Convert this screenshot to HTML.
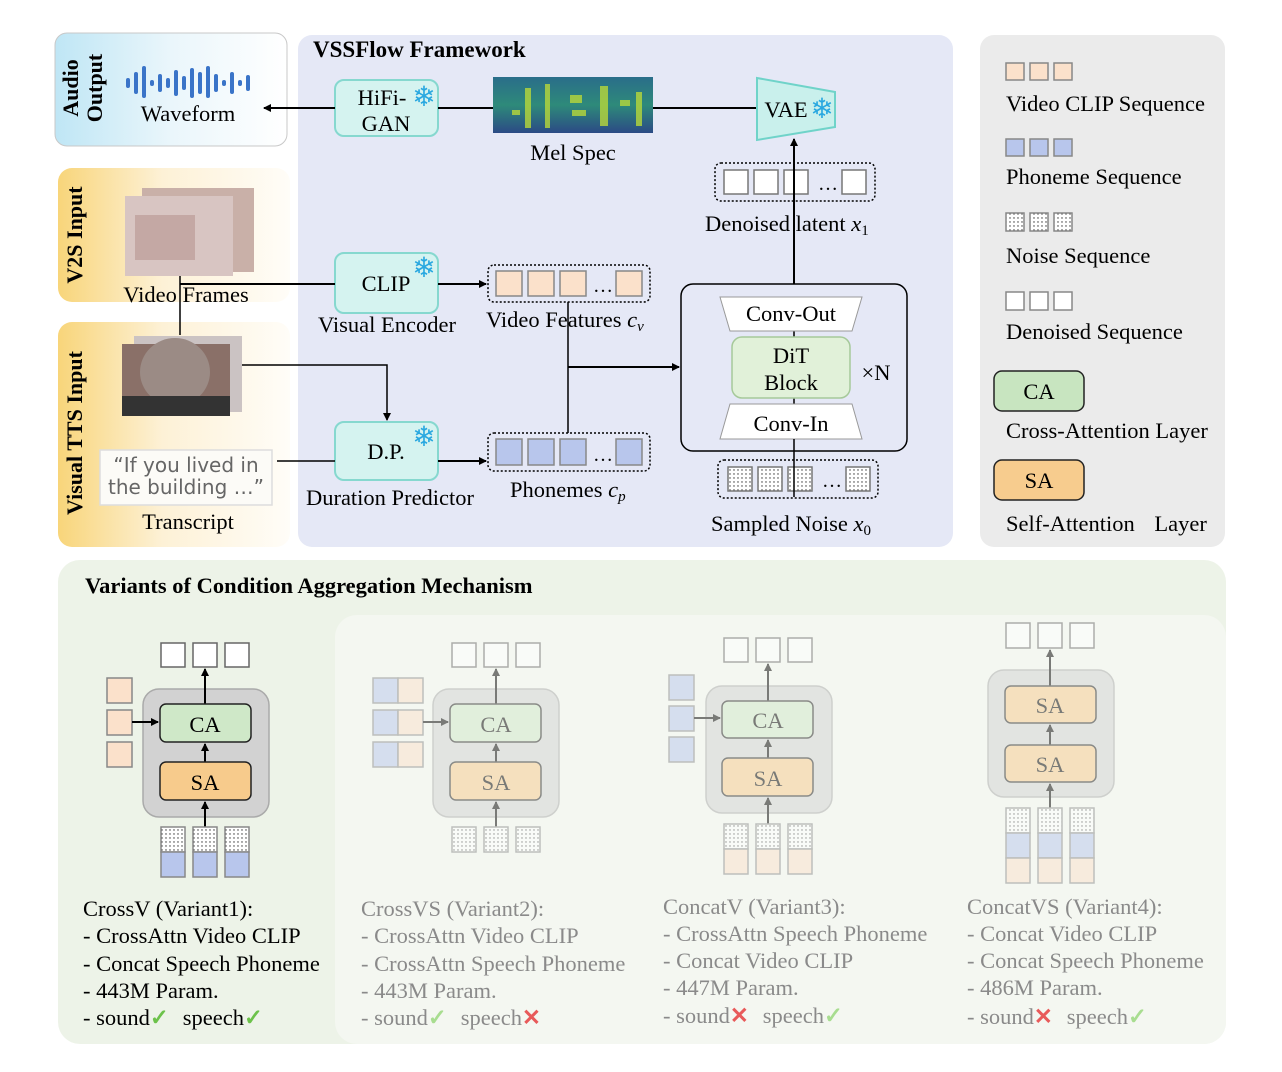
<!DOCTYPE html>
<html><head><meta charset="utf-8"><style>
html,body{margin:0;padding:0;background:#fff;}
svg{display:block;font-family:"Liberation Serif",serif;}
</style></head><body>
<svg width="1282" height="1072" viewBox="0 0 1282 1072" xmlns="http://www.w3.org/2000/svg">
<defs>
<linearGradient id="gBlue" x1="0" y1="0" x2="1" y2="0"><stop offset="0" stop-color="#bfe6f5"/><stop offset="0.5" stop-color="#eaf6fb"/><stop offset="1" stop-color="#ffffff"/></linearGradient>
<linearGradient id="gOr" x1="0" y1="0" x2="1" y2="0"><stop offset="0" stop-color="#f8d57a"/><stop offset="0.45" stop-color="#fdf1d6"/><stop offset="1" stop-color="#fffdf8"/></linearGradient>
<linearGradient id="gMel" x1="0" y1="0" x2="0" y2="1"><stop offset="0" stop-color="#2a6d8a"/><stop offset="0.5" stop-color="#2e8a7a"/><stop offset="1" stop-color="#2b4a85"/></linearGradient>
<pattern id="dots" width="4" height="4" patternUnits="userSpaceOnUse"><rect width="4" height="4" fill="#fff"/><circle cx="2" cy="2" r="0.7" fill="#333"/></pattern>
<marker id="ar" markerWidth="8" markerHeight="8" refX="7" refY="4" orient="auto" markerUnits="userSpaceOnUse"><path d="M0,0 L8,4 L0,8 z" fill="#000"/></marker>
</defs>

<!-- Audio output -->
<rect x="55" y="33" width="232" height="113" rx="12" fill="url(#gBlue)" stroke="#c8c8c8"/>
<text transform="translate(78,88) rotate(-90)" font-size="22" font-weight="bold" text-anchor="middle">Audio</text>
<text transform="translate(102,88) rotate(-90)" font-size="22" font-weight="bold" text-anchor="middle">Output</text>
<g fill="#3a74c8">
<rect x="126" y="78" width="4" height="10" rx="2"/><rect x="134" y="72" width="4" height="22" rx="2"/><rect x="142" y="66" width="4" height="32" rx="2"/><rect x="150" y="80" width="4" height="6" rx="2"/><rect x="158" y="74" width="4" height="18" rx="2"/><rect x="166" y="78" width="4" height="10" rx="2"/><rect x="174" y="70" width="4" height="26" rx="2"/><rect x="182" y="76" width="4" height="14" rx="2"/><rect x="190" y="68" width="4" height="30" rx="2"/><rect x="198" y="72" width="4" height="22" rx="2"/><rect x="206" y="66" width="4" height="32" rx="2"/><rect x="214" y="74" width="4" height="18" rx="2"/><rect x="222" y="80" width="4" height="6" rx="2"/><rect x="230" y="72" width="4" height="22" rx="2"/><rect x="238" y="80" width="4" height="6" rx="2"/><rect x="246" y="75" width="4" height="16" rx="2"/>
</g>
<text x="188" y="121" font-size="22.5" text-anchor="middle">Waveform</text>

<!-- V2S -->
<rect x="58" y="168" width="232" height="134" rx="14" fill="url(#gOr)"/>
<text transform="translate(82,235) rotate(-90)" font-size="22" font-weight="bold" text-anchor="middle">V2S  Input</text>
<rect x="142" y="188" width="112" height="84" fill="#c9b0a8"/>
<rect x="125" y="196" width="108" height="80" fill="#d8c5c2"/>
<rect x="135" y="215" width="60" height="45" fill="#b79490" opacity="0.6"/>
<text x="186" y="302" font-size="22.5" text-anchor="middle">Video Frames</text>

<!-- Visual TTS -->
<rect x="58" y="322" width="232" height="225" rx="14" fill="url(#gOr)"/>
<text transform="translate(82,433) rotate(-90)" font-size="22" font-weight="bold" text-anchor="middle">Visual TTS  Input</text>
<rect x="134" y="336" width="108" height="76" fill="#cbc3c3"/>
<rect x="122" y="344" width="108" height="72" fill="#8a7068"/>
<ellipse cx="175" cy="372" rx="35" ry="34" fill="#9b8b85"/>
<rect x="122" y="396" width="108" height="20" fill="#333"/>
<rect x="328" y="348" width="48" height="46" fill="#c9b0a8"/>
<rect x="328" y="342" width="44" height="46" fill="#a88870"/>
<text x="349" y="412" font-size="22.5" text-anchor="middle">Lip</text>
<rect x="100" y="450" width="172" height="55" fill="#fcfbf7" stroke="#ddd" stroke-width="1.5"/>
<text x="186" y="472" font-size="20" fill="#666" text-anchor="middle" font-family="DejaVu Sans, sans-serif">“If you lived in</text>
<text x="186" y="494" font-size="20" fill="#666" text-anchor="middle" font-family="DejaVu Sans, sans-serif">the building …”</text>
<text x="188" y="529" font-size="22.5" text-anchor="middle">Transcript</text>

<!-- VSSFlow panel -->
<rect x="298" y="35" width="655" height="512" rx="14" fill="#e5e8f6"/>
<text x="313" y="57" font-size="23" font-weight="bold">VSSFlow Framework</text>

<!-- HiFi-GAN -->
<rect x="335" y="80" width="103" height="56" rx="9" fill="#d5f3f0" stroke="#86d8cf" stroke-width="2"/>
<text x="382" y="105" font-size="22.5" text-anchor="middle">HiFi-</text>
<text x="386" y="131" font-size="22.5" text-anchor="middle">GAN</text>
<text x="424" y="106" font-size="28" fill="#2aa8e0" text-anchor="middle">❄</text>
<line x1="335" y1="108" x2="264" y2="108" stroke="#000" stroke-width="2" marker-end="url(#ar)"/>
<line x1="438" y1="108" x2="493" y2="108" stroke="#000" stroke-width="2"/>
<rect x="493" y="77" width="160" height="56" fill="url(#gMel)"/>
<g fill="#b8d83a" opacity="0.8">
<rect x="525" y="88" width="6" height="40"/><rect x="545" y="84" width="5" height="44"/><rect x="570" y="95" width="12" height="8"/><rect x="572" y="110" width="14" height="6"/><rect x="600" y="86" width="8" height="40"/><rect x="620" y="100" width="10" height="6"/><rect x="636" y="92" width="6" height="34"/><rect x="512" y="110" width="8" height="5"/>
</g>
<text x="573" y="160" font-size="22.5" text-anchor="middle">Mel Spec</text>
<line x1="653" y1="108" x2="757" y2="108" stroke="#000" stroke-width="2"/>
<polygon points="757,78 835,92 835,127 757,140" fill="#c9f0ec" stroke="#6fd3c9" stroke-width="2"/>
<text x="786" y="117" font-size="22.5" text-anchor="middle">VAE</text>
<text x="822" y="118" font-size="28" fill="#2aa8e0" text-anchor="middle">❄</text>

<!-- Denoised latent -->
<rect x="715" y="163" width="160" height="38" rx="6" fill="none" stroke="#000" stroke-width="1.5" stroke-dasharray="2,2"/>
<g fill="#fff" stroke="#777" stroke-width="1.5"><rect x="724" y="170" width="24" height="24"/><rect x="754" y="170" width="24" height="24"/><rect x="784" y="170" width="24" height="24"/><rect x="842" y="170" width="24" height="24"/></g>
<text x="828" y="190" font-size="20" text-anchor="middle">…</text>
<line x1="794" y1="297" x2="794" y2="139" stroke="#000" stroke-width="2" marker-end="url(#ar)"/>
<text x="705" y="231" font-size="22.5">Denoised latent <tspan font-style="italic">x</tspan><tspan font-size="15" dy="4">1</tspan></text>

<!-- DiT -->
<rect x="681" y="284" width="226" height="167" rx="12" fill="#e5e8f6" stroke="#000" stroke-width="1.5"/>
<line x1="794" y1="331" x2="794" y2="404" stroke="#000" stroke-width="1.5"/>
<polygon points="720,297 862,297 852,331 730,331" fill="#fff" stroke="#999"/>
<text x="791" y="321" font-size="22.5" text-anchor="middle">Conv-Out</text>
<rect x="732" y="337" width="118" height="61" rx="10" fill="#e1f1d9" stroke="#a6c99a" stroke-width="1.5"/>
<text x="791" y="363" font-size="22.5" text-anchor="middle">DiT</text>
<text x="791" y="390" font-size="22.5" text-anchor="middle">Block</text>
<text x="876" y="380" font-size="22.5" text-anchor="middle">×N</text>
<polygon points="730,404 852,404 862,439 720,439" fill="#fff" stroke="#999"/>
<text x="791" y="431" font-size="22.5" text-anchor="middle">Conv-In</text>

<!-- Noise -->
<rect x="718" y="460" width="160" height="38" rx="6" fill="none" stroke="#000" stroke-width="1.5" stroke-dasharray="2,2"/>
<g fill="url(#dots)" stroke="#777" stroke-width="1.5"><rect x="728" y="467" width="24" height="24"/><rect x="758" y="467" width="24" height="24"/><rect x="788" y="467" width="24" height="24"/><rect x="846" y="467" width="24" height="24"/></g>
<text x="832" y="487" font-size="20" text-anchor="middle">…</text>
<line x1="794" y1="497" x2="794" y2="439" stroke="#000" stroke-width="1.5"/>
<text x="711" y="531" font-size="22.5">Sampled Noise <tspan font-style="italic">x</tspan><tspan font-size="15" dy="4">0</tspan></text>

<!-- CLIP -->
<rect x="335" y="253" width="103" height="60" rx="9" fill="#d5f3f0" stroke="#86d8cf" stroke-width="2"/>
<text x="386" y="291" font-size="22.5" text-anchor="middle">CLIP</text>
<text x="424" y="277" font-size="28" fill="#2aa8e0" text-anchor="middle">❄</text>
<text x="387" y="332" font-size="22.5" text-anchor="middle">Visual Encoder</text>
<polyline points="180,276 180,335" fill="none" stroke="#000" stroke-width="1.5"/>
<line x1="180" y1="284" x2="335" y2="284" stroke="#000" stroke-width="2"/>
<line x1="438" y1="284" x2="486" y2="284" stroke="#000" stroke-width="2" marker-end="url(#ar)"/>
<rect x="488" y="265" width="162" height="37" rx="6" fill="none" stroke="#000" stroke-width="1.5" stroke-dasharray="2,2"/>
<g fill="#fbe1cb" stroke="#888" stroke-width="1.5"><rect x="496" y="271" width="26" height="25"/><rect x="528" y="271" width="26" height="25"/><rect x="560" y="271" width="26" height="25"/><rect x="616" y="271" width="26" height="25"/></g>
<text x="603" y="292" font-size="20" text-anchor="middle">…</text>
<text x="486" y="327" font-size="22.5">Video Features <tspan font-style="italic">c</tspan><tspan font-size="15" dy="4" font-style="italic">v</tspan></text>

<!-- DP -->
<polyline points="242,365 387,365 387,420" fill="none" stroke="#000" stroke-width="1.5" marker-end="url(#ar)"/>
<rect x="335" y="422" width="103" height="58" rx="9" fill="#d5f3f0" stroke="#86d8cf" stroke-width="2"/>
<text x="386" y="459" font-size="22.5" text-anchor="middle">D.P.</text>
<text x="424" y="446" font-size="28" fill="#2aa8e0" text-anchor="middle">❄</text>
<text x="390" y="505" font-size="22.5" text-anchor="middle">Duration Predictor</text>
<line x1="277" y1="461" x2="335" y2="461" stroke="#000" stroke-width="1.5"/>
<line x1="438" y1="461" x2="486" y2="461" stroke="#000" stroke-width="2" marker-end="url(#ar)"/>
<rect x="488" y="433" width="162" height="38" rx="6" fill="none" stroke="#000" stroke-width="1.5" stroke-dasharray="2,2"/>
<g fill="#b8c6ec" stroke="#888" stroke-width="1.5"><rect x="496" y="439" width="26" height="26"/><rect x="528" y="439" width="26" height="26"/><rect x="560" y="439" width="26" height="26"/><rect x="616" y="439" width="26" height="26"/></g>
<text x="603" y="461" font-size="20" text-anchor="middle">…</text>
<text x="510" y="497" font-size="22.5">Phonemes <tspan font-style="italic">c</tspan><tspan font-size="15" dy="4" font-style="italic">p</tspan></text>
<line x1="568" y1="302" x2="568" y2="433" stroke="#000" stroke-width="1.5"/>
<line x1="568" y1="367" x2="679" y2="367" stroke="#000" stroke-width="2" marker-end="url(#ar)"/>

<!-- Legend -->
<rect x="980" y="35" width="245" height="512" rx="14" fill="#ebebeb"/>
<g stroke="#888" stroke-width="1.5">
<g fill="#fbe1cb"><rect x="1006" y="63" width="18" height="17"/><rect x="1030" y="63" width="18" height="17"/><rect x="1054" y="63" width="18" height="17"/></g>
<g fill="#b8c6ec"><rect x="1006" y="139" width="18" height="17"/><rect x="1030" y="139" width="18" height="17"/><rect x="1054" y="139" width="18" height="17"/></g>
<g fill="url(#dots)"><rect x="1006" y="213" width="18" height="18"/><rect x="1030" y="213" width="18" height="18"/><rect x="1054" y="213" width="18" height="18"/></g>
<g fill="#fff"><rect x="1006" y="292" width="18" height="18"/><rect x="1030" y="292" width="18" height="18"/><rect x="1054" y="292" width="18" height="18"/></g>
</g>
<text x="1006" y="111" font-size="22.5">Video CLIP Sequence</text>
<text x="1006" y="184" font-size="22.5">Phoneme Sequence</text>
<text x="1006" y="263" font-size="22.5">Noise Sequence</text>
<text x="1006" y="339" font-size="22.5">Denoised Sequence</text>
<rect x="994" y="371" width="90" height="40" rx="8" fill="#c8e5c0" stroke="#222" stroke-width="1.5"/>
<text x="1039" y="399" font-size="22.5" text-anchor="middle">CA</text>
<text x="1006" y="438" font-size="22.5">Cross-Attention Layer</text>
<rect x="994" y="460" width="90" height="40" rx="8" fill="#f7cc8e" stroke="#222" stroke-width="1.5"/>
<text x="1039" y="488" font-size="22.5" text-anchor="middle">SA</text>
<text x="1006" y="531" font-size="22.5">Self-Attention <tspan dx="14">Layer</tspan></text>

<!-- Bottom panel -->
<rect x="58" y="560" width="1168" height="484" rx="22" fill="#edf3e8"/>
<rect x="335" y="615" width="891" height="429" rx="22" fill="#f4f7f1"/>
<text x="85" y="593" font-size="22.5" font-weight="bold">Variants of Condition Aggregation Mechanism</text>

<!-- Variant1 -->
<g>
<g fill="#fff" stroke="#666" stroke-width="1.5"><rect x="161" y="643" width="24" height="24"/><rect x="193" y="643" width="24" height="24"/><rect x="225" y="643" width="24" height="24"/></g>
<rect x="143" y="689" width="126" height="128" rx="16" fill="#d2d2d2" stroke="#aaa" stroke-width="1.5"/>
<line x1="205" y1="704" x2="205" y2="669" stroke="#000" stroke-width="2" marker-end="url(#ar)"/>
<rect x="160" y="704" width="91" height="38" rx="6" fill="#cfe8c8" stroke="#222" stroke-width="1.5"/>
<text x="205" y="732" font-size="22.5" text-anchor="middle">CA</text>
<line x1="205" y1="762" x2="205" y2="744" stroke="#000" stroke-width="2" marker-end="url(#ar)"/>
<rect x="160" y="762" width="91" height="38" rx="6" fill="#f7cb8c" stroke="#222" stroke-width="1.5"/>
<text x="205" y="790" font-size="22.5" text-anchor="middle">SA</text>
<line x1="205" y1="827" x2="205" y2="802" stroke="#000" stroke-width="2" marker-end="url(#ar)"/>
<g fill="#fbe1cb" stroke="#888" stroke-width="1.5"><rect x="107" y="678" width="25" height="25"/><rect x="107" y="710" width="25" height="25"/><rect x="107" y="742" width="25" height="25"/></g>
<line x1="132" y1="722" x2="158" y2="722" stroke="#000" stroke-width="2" marker-end="url(#ar)"/>
<g stroke="#888" stroke-width="1.5"><rect x="161" y="827" width="24" height="25" fill="url(#dots)"/><rect x="193" y="827" width="24" height="25" fill="url(#dots)"/><rect x="225" y="827" width="24" height="25" fill="url(#dots)"/>
<rect x="161" y="852" width="24" height="25" fill="#b8c6ec"/><rect x="193" y="852" width="24" height="25" fill="#b8c6ec"/><rect x="225" y="852" width="24" height="25" fill="#b8c6ec"/></g>
</g>
<g font-size="22.5">
<text x="83" y="916">CrossV (Variant1):</text>
<text x="83" y="943">- CrossAttn Video CLIP</text>
<text x="83" y="971">- Concat Speech Phoneme</text>
<text x="83" y="998">- 443M Param.</text>
<text x="83" y="1025">- sound<tspan fill="#6cc24a" font-weight="bold">✓</tspan><tspan dx="14">speech</tspan><tspan fill="#6cc24a" font-weight="bold">✓</tspan></text>
</g>

<!-- Variant2 -->
<g opacity="0.5">
<g fill="#fff" stroke="#666" stroke-width="1.5"><rect x="452" y="643" width="24" height="24"/><rect x="484" y="643" width="24" height="24"/><rect x="516" y="643" width="24" height="24"/></g>
<rect x="433" y="689" width="126" height="128" rx="16" fill="#d2d2d2" stroke="#aaa" stroke-width="1.5"/>
<line x1="496" y1="704" x2="496" y2="669" stroke="#000" stroke-width="2" marker-end="url(#ar)"/>
<rect x="450" y="704" width="91" height="38" rx="6" fill="#cfe8c8" stroke="#222" stroke-width="1.5"/>
<text x="496" y="732" font-size="22.5" text-anchor="middle">CA</text>
<line x1="496" y1="762" x2="496" y2="744" stroke="#000" stroke-width="2" marker-end="url(#ar)"/>
<rect x="450" y="762" width="91" height="38" rx="6" fill="#f7cb8c" stroke="#222" stroke-width="1.5"/>
<text x="496" y="790" font-size="22.5" text-anchor="middle">SA</text>
<line x1="496" y1="827" x2="496" y2="802" stroke="#000" stroke-width="2" marker-end="url(#ar)"/>
<g stroke="#888" stroke-width="1.5"><rect x="373" y="678" width="25" height="25" fill="#b8c6ec"/><rect x="398" y="678" width="25" height="25" fill="#fbe1cb"/><rect x="373" y="710" width="25" height="25" fill="#b8c6ec"/><rect x="398" y="710" width="25" height="25" fill="#fbe1cb"/><rect x="373" y="742" width="25" height="25" fill="#b8c6ec"/><rect x="398" y="742" width="25" height="25" fill="#fbe1cb"/></g>
<line x1="423" y1="722" x2="448" y2="722" stroke="#000" stroke-width="2" marker-end="url(#ar)"/>
<g stroke="#888" stroke-width="1.5" fill="url(#dots)"><rect x="452" y="827" width="24" height="25"/><rect x="484" y="827" width="24" height="25"/><rect x="516" y="827" width="24" height="25"/></g>
</g>
<g font-size="22.5" fill="#8a8a8a">
<text x="361" y="916">CrossVS (Variant2):</text>
<text x="361" y="943">- CrossAttn Video CLIP</text>
<text x="361" y="971">- CrossAttn Speech Phoneme</text>
<text x="361" y="998">- 443M Param.</text>
<text x="361" y="1025">- sound<tspan fill="#a8dd90" font-weight="bold">✓</tspan><tspan dx="14">speech</tspan><tspan fill="#e85a5a" font-weight="bold">✕</tspan></text>
</g>

<!-- Variant3 -->
<g opacity="0.5">
<g fill="#fff" stroke="#666" stroke-width="1.5"><rect x="724" y="638" width="24" height="24"/><rect x="756" y="638" width="24" height="24"/><rect x="788" y="638" width="24" height="24"/></g>
<rect x="706" y="686" width="126" height="127" rx="16" fill="#d2d2d2" stroke="#aaa" stroke-width="1.5"/>
<line x1="768" y1="701" x2="768" y2="664" stroke="#000" stroke-width="2" marker-end="url(#ar)"/>
<rect x="722" y="701" width="91" height="37" rx="6" fill="#cfe8c8" stroke="#222" stroke-width="1.5"/>
<text x="768" y="728" font-size="22.5" text-anchor="middle">CA</text>
<line x1="768" y1="758" x2="768" y2="740" stroke="#000" stroke-width="2" marker-end="url(#ar)"/>
<rect x="722" y="758" width="91" height="38" rx="6" fill="#f7cb8c" stroke="#222" stroke-width="1.5"/>
<text x="768" y="786" font-size="22.5" text-anchor="middle">SA</text>
<line x1="768" y1="824" x2="768" y2="798" stroke="#000" stroke-width="2" marker-end="url(#ar)"/>
<g fill="#b8c6ec" stroke="#888" stroke-width="1.5"><rect x="669" y="675" width="25" height="25"/><rect x="669" y="706" width="25" height="25"/><rect x="669" y="737" width="25" height="25"/></g>
<line x1="694" y1="718" x2="720" y2="718" stroke="#000" stroke-width="2" marker-end="url(#ar)"/>
<g stroke="#888" stroke-width="1.5"><rect x="724" y="824" width="24" height="25" fill="url(#dots)"/><rect x="756" y="824" width="24" height="25" fill="url(#dots)"/><rect x="788" y="824" width="24" height="25" fill="url(#dots)"/>
<rect x="724" y="849" width="24" height="25" fill="#fbe1cb"/><rect x="756" y="849" width="24" height="25" fill="#fbe1cb"/><rect x="788" y="849" width="24" height="25" fill="#fbe1cb"/></g>
</g>
<g font-size="22.5" fill="#8a8a8a">
<text x="663" y="914">ConcatV (Variant3):</text>
<text x="663" y="941">- CrossAttn Speech Phoneme</text>
<text x="663" y="968">- Concat Video CLIP</text>
<text x="663" y="995">- 447M Param.</text>
<text x="663" y="1023">- sound<tspan fill="#e85a5a" font-weight="bold">✕</tspan><tspan dx="14">speech</tspan><tspan fill="#a8dd90" font-weight="bold">✓</tspan></text>
</g>

<!-- Variant4 -->
<g opacity="0.5">
<g fill="#fff" stroke="#666" stroke-width="1.5"><rect x="1006" y="623" width="24" height="25"/><rect x="1038" y="623" width="24" height="25"/><rect x="1070" y="623" width="24" height="25"/></g>
<rect x="988" y="670" width="126" height="127" rx="16" fill="#d2d2d2" stroke="#aaa" stroke-width="1.5"/>
<line x1="1050" y1="686" x2="1050" y2="650" stroke="#000" stroke-width="2" marker-end="url(#ar)"/>
<rect x="1005" y="686" width="91" height="37" rx="6" fill="#f7cb8c" stroke="#222" stroke-width="1.5"/>
<text x="1050" y="713" font-size="22.5" text-anchor="middle">SA</text>
<line x1="1050" y1="745" x2="1050" y2="725" stroke="#000" stroke-width="2" marker-end="url(#ar)"/>
<rect x="1005" y="745" width="91" height="37" rx="6" fill="#f7cb8c" stroke="#222" stroke-width="1.5"/>
<text x="1050" y="772" font-size="22.5" text-anchor="middle">SA</text>
<line x1="1050" y1="808" x2="1050" y2="784" stroke="#000" stroke-width="2" marker-end="url(#ar)"/>
<g stroke="#888" stroke-width="1.5"><rect x="1006" y="808" width="24" height="25" fill="url(#dots)"/><rect x="1038" y="808" width="24" height="25" fill="url(#dots)"/><rect x="1070" y="808" width="24" height="25" fill="url(#dots)"/>
<rect x="1006" y="833" width="24" height="25" fill="#b8c6ec"/><rect x="1038" y="833" width="24" height="25" fill="#b8c6ec"/><rect x="1070" y="833" width="24" height="25" fill="#b8c6ec"/>
<rect x="1006" y="858" width="24" height="25" fill="#fbe1cb"/><rect x="1038" y="858" width="24" height="25" fill="#fbe1cb"/><rect x="1070" y="858" width="24" height="25" fill="#fbe1cb"/></g>
</g>
<g font-size="22.5" fill="#8a8a8a">
<text x="967" y="914">ConcatVS (Variant4):</text>
<text x="967" y="941">- Concat  Video CLIP</text>
<text x="967" y="968">- Concat Speech  Phoneme</text>
<text x="967" y="995">- 486M Param.</text>
<text x="967" y="1024">- sound<tspan fill="#e85a5a" font-weight="bold">✕</tspan><tspan dx="14">speech</tspan><tspan fill="#a8dd90" font-weight="bold">✓</tspan></text>
</g>
</svg>
</body></html>
